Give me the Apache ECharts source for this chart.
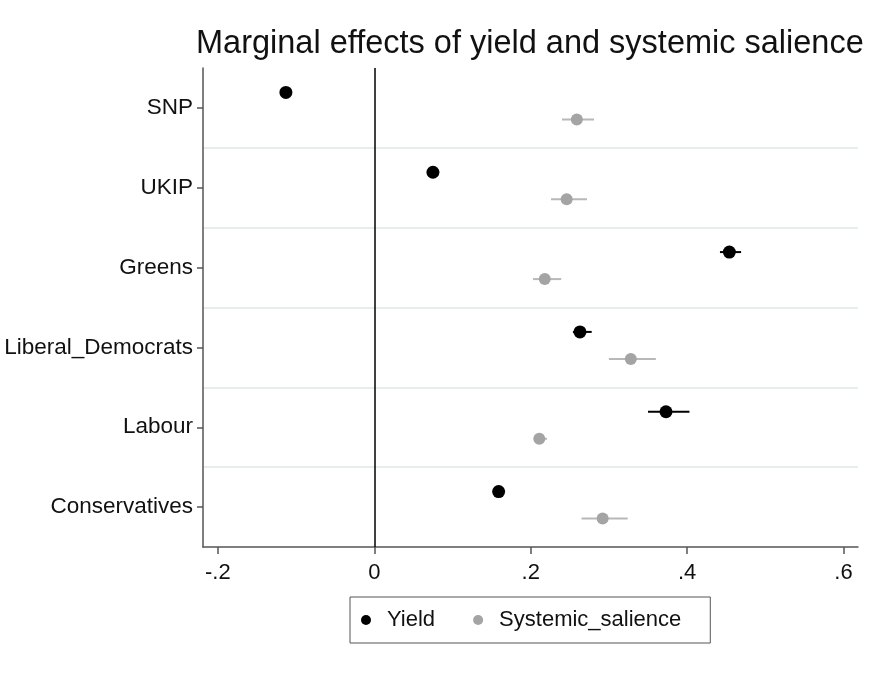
<!DOCTYPE html>
<html>
<head>
<meta charset="utf-8">
<script src="https://cdn.jsdelivr.net/npm/echarts@6/dist/echarts.min.js"></script>
<style>html,body{margin:0;padding:0;background:#fff;}#chart{width:878px;height:673px;}</style>
</head>
<body>
<div id="chart"></div>
<script>
// ---- data ----
const categories = ['SNP', 'UKIP', 'Greens', 'Liberal_Democrats', 'Labour', 'Conservatives'];
const yieldEst  = [-0.113, 0.075, 0.454, 0.263, 0.373, 0.159];
const yieldLow  = [-0.119, 0.070, 0.442, 0.254, 0.350, 0.153];
const yieldHigh = [-0.107, 0.082, 0.469, 0.278, 0.403, 0.165];
const salEst  = [0.259, 0.246, 0.218, 0.328, 0.211, 0.292];
const salLow  = [0.240, 0.226, 0.203, 0.300, 0.204, 0.265];
const salHigh = [0.281, 0.272, 0.239, 0.360, 0.221, 0.324];
const tickValues = [-0.2, 0, 0.2, 0.4, 0.6];
const tickLabels = ['-.2', '0', '.2', '.4', '.6'];
const seriesNames = ['Yield', 'Systemic_salience'];

// ---- styling ----
const FONT = 'Liberation Sans, Arial, Helvetica, sans-serif';
const OFF_YIELD = -15.5, OFF_SAL = 11.5;
const C_YIELD = '#000000', C_SAL = '#a4a4a4', C_SAL_CI = '#b8b8b8';

function ciSeries(low, high, offset, color) {
  return {
    type: 'custom',
    silent: true,
    z: 2,
    data: categories.map((c, i) => [i, low[i], high[i]]),
    encode: { x: [1, 2], y: 0 },
    renderItem: function (params, api) {
      const idx = api.value(0);
      const p1 = api.coord([api.value(1), idx]);
      const p2 = api.coord([api.value(2), idx]);
      return {
        type: 'line',
        shape: { x1: p1[0], y1: p1[1] + offset, x2: p2[0], y2: p2[1] + offset },
        style: { stroke: color, lineWidth: 2 }
      };
    }
  };
}

const chart = echarts.init(document.getElementById('chart'), null, { renderer: 'canvas' });
chart.setOption({
  backgroundColor: '#ffffff',
  animation: false,
  textStyle: { fontFamily: FONT },
  title: {
    text: 'Marginal effects of yield and systemic salience',
    left: 196, top: 28, padding: 0,
    textStyle: { fontFamily: FONT, fontSize: 32.5, fontWeight: 'normal', color: '#111' }
  },
  grid: { left: 203, right: 20, top: 68, bottom: 126, containLabel: false },
  legend: {
    data: seriesNames.map(n => ({ name: n, icon: 'circle' })),
    left: 350, top: 597,
    padding: [12, 29, 12, 11],
    itemWidth: 10, itemHeight: 10, itemGap: 38,
    borderColor: '#555', borderWidth: 1,
    textStyle: { fontFamily: FONT, fontSize: 22, color: '#111', padding: [0, 0, 0, 11] }
  },
  xAxis: {
    type: 'value',
    min: -0.219, max: 0.6185,
    axisLine: { show: true, onZero: false, lineStyle: { color: '#555', width: 1.5 } },
    axisTick: { show: true, length: 7, customValues: tickValues, lineStyle: { color: '#555', width: 1.5 } },
    axisLabel: {
      customValues: tickValues,
      formatter: v => tickLabels[tickValues.findIndex(t => Math.abs(t - v) < 1e-9)],
      fontSize: 22, color: '#111', margin: 15, fontFamily: FONT
    },
    splitLine: { show: false }
  },
  yAxis: {
    type: 'category',
    data: categories,
    inverse: true,
    axisLine: { show: true, onZero: false, lineStyle: { color: '#555', width: 1.5 } },
    axisTick: { show: true, alignWithLabel: true, length: 6, lineStyle: { color: '#555', width: 1.5 } },
    axisLabel: { fontSize: 22.5, color: '#111', margin: 10, fontFamily: FONT },
    splitLine: { show: true, showMinLine: false, showMaxLine: false, lineStyle: { color: '#e6eded', width: 2 } }
  },
  series: [
    ciSeries(yieldLow, yieldHigh, OFF_YIELD, C_YIELD),
    ciSeries(salLow, salHigh, OFF_SAL, C_SAL_CI),
    {
      name: seriesNames[0], type: 'scatter', z: 3,
      symbol: 'circle', symbolSize: 13, symbolOffset: [0, OFF_YIELD],
      itemStyle: { color: C_YIELD, opacity: 1 },
      data: categories.map((c, i) => [yieldEst[i], c]),
      markLine: {
        silent: true, symbol: ['none', 'none'], label: { show: false },
        lineStyle: { color: '#000', width: 1.5, type: 'solid' },
        data: [{ xAxis: 0 }]
      }
    },
    {
      name: seriesNames[1], type: 'scatter', z: 3,
      symbol: 'circle', symbolSize: 12, symbolOffset: [0, OFF_SAL],
      itemStyle: { color: C_SAL, opacity: 1 },
      data: categories.map((c, i) => [salEst[i], c])
    }
  ]
});
</script>
</body>
</html>
